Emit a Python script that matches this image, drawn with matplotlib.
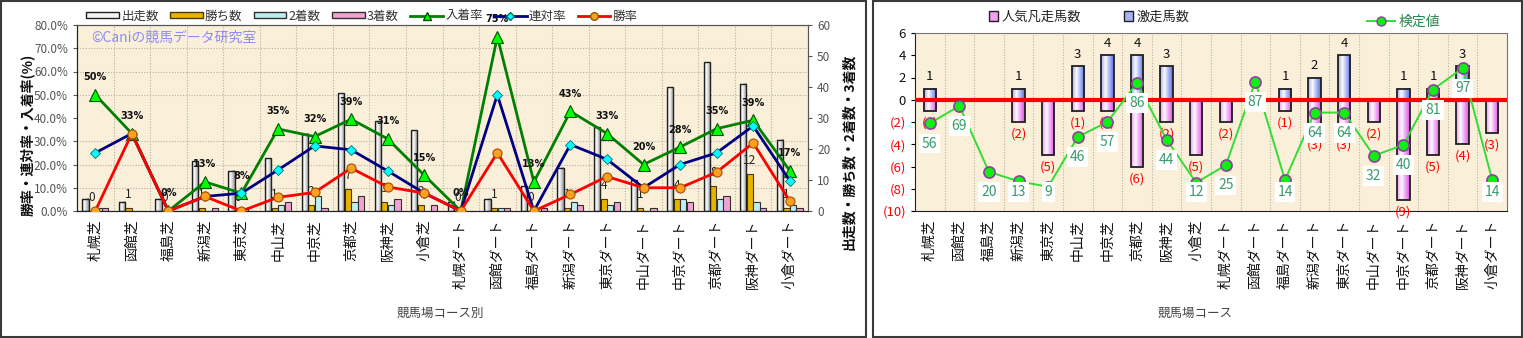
import math

import matplotlib

matplotlib.use("Agg")
import matplotlib.pyplot as plt  # noqa: E402
import numpy as np  # noqa: E402
from matplotlib.lines import Line2D  # noqa: E402
from matplotlib.patches import Patch, Rectangle  # noqa: E402

plt.rcParams["font.family"] = ["Noto Sans CJK JP", "DejaVu Sans"]

# 競馬場コース
courses = ["札幌芝", "函館芝", "福島芝", "新潟芝", "東京芝", "中山芝", "中京芝", "京都芝",
           "阪神芝", "小倉芝", "札幌ダート", "函館ダート", "福島ダート", "新潟ダート",
           "東京ダート", "中山ダート", "中京ダート", "京都ダート", "阪神ダート", "小倉ダート"]

# 左: 出走数・着順別回数
runs = [4, 3, 4, 16, 13, 17, 25, 38, 29, 26, 3, 4, 8, 14, 27, 10, 40, 48, 41, 23]
wins = [0, 1, 0, 1, 0, 1, 2, 7, 3, 2, 0, 1, 0, 1, 4, 1, 4, 8, 12, 1]
seconds = [1, 0, 0, 0, 1, 2, 5, 3, 2, 0, 0, 1, 0, 3, 2, 0, 4, 4, 3, 2]
thirds = [1, 0, 0, 1, 0, 3, 1, 5, 4, 2, 0, 1, 1, 2, 3, 1, 3, 5, 1, 1]

# 右: 激走馬数 / 人気凡走馬数 / 検定値
gekisou = [1, 0, 0, 1, 0, 3, 4, 4, 3, 0, 0, 0, 1, 2, 4, 0, 1, 1, 3, 0]
bonsou = [1, 0, 0, 2, 5, 1, 1, 6, 2, 5, 2, 0, 1, 3, 3, 2, 9, 5, 4, 3]
kentei = [56, 69, 20, 13, 9, 46, 57, 86, 44, 12, 25, 87, 14, 64, 64, 32, 40, 81, 97, 14]

W, H = 1523, 338
x = np.arange(len(courses))
runs_a = np.array(runs, float)
win_rate = np.array(wins) / runs_a * 100
rentai_rate = (np.array(wins) + np.array(seconds)) / runs_a * 100
place_rate = (np.array(wins) + np.array(seconds) + np.array(thirds)) / runs_a * 100

BG = "#FAF0DA"
GRID = dict(color="#B8B0A0", linestyle=(0, (1, 1.5)), linewidth=0.8)


def gradient_bars(ax, xs, heights, width, edge, center, zorder=2, lw=1.0):
    """Bars with a horizontal cylinder-like colour gradient."""
    bars = ax.bar(xs, heights, width, facecolor="none", edgecolor="#202020",
                  linewidth=lw, zorder=zorder + 0.1)
    t = np.linspace(0, 1, 64)
    k = np.clip(np.abs(t - 0.35) / 0.65, 0, 1) ** 0.9
    e, c = np.array(matplotlib.colors.to_rgb(edge)), np.array(matplotlib.colors.to_rgb(center))
    img = (c + (e - c) * k[:, None])[None, :, :]
    for b in bars:
        if b.get_height() == 0:
            b.set_visible(False)
            continue
        x0, y0, w, h = b.get_x(), b.get_y(), b.get_width(), b.get_height()
        ax.imshow(img, extent=(x0, x0 + w, y0, y0 + h), aspect="auto",
                  interpolation="bilinear", zorder=zorder)
    return bars


def px(v, total):
    return v / total


fig = plt.figure(figsize=(W / 100, H / 100), dpi=100)
fig.patch.set_facecolor("white")

# panel frames
for x0, x1 in [(1, 866), (873, 1522)]:
    fig.patches.append(Rectangle((px(x0, W), px(1, H)), px(x1 - x0, W), px(H - 2, H),
                                 transform=fig.transFigure, fill=False,
                                 edgecolor="#3A3A3A", linewidth=1.5))

# ---------------- left chart ----------------
ax = fig.add_axes([px(77, W), 1 - px(211, H), px(731, W), px(186, H)])
ax.set_facecolor(BG)
ax2 = ax.twinx()

bw = 0.17
gradient_bars(ax, x - 0.27, runs, bw, "#9A9A9A", "#FFFFFF")
ax.bar(x - 0.09, wins, bw, color="#E8B400", edgecolor="#4A3A00", linewidth=0.8, zorder=2)
ax.bar(x + 0.09, seconds, bw, color="#BDEEF2", edgecolor="#303030", linewidth=0.8, zorder=2)
ax.bar(x + 0.27, thirds, bw, color="#F2A2D2", edgecolor="#303030", linewidth=0.8, zorder=2)
for xi, w in zip(x, wins):
    ax.annotate(str(w), (xi - 0.09, w), xytext=(0, 5), textcoords="offset points",
                ha="center", va="bottom", fontsize=8.5, color="#222222", zorder=5)

ax.set_xlim(-0.5, len(courses) - 0.5)
ax.set_ylim(0, 60)
ax.yaxis.tick_right()
ax.set_yticks(np.arange(0, 61, 10))
ax.set_yticks(np.arange(0, 61, 7.5), minor=True)
ax.set_xticks(x)
ax.set_xticks(x[:-1] + 0.5, minor=True)
ax.set_xticklabels(courses, rotation=90, fontsize=10, color="#111111")
ax.tick_params(axis="x", which="both", length=0, pad=6)
ax.tick_params(axis="y", which="major", labelsize=8.5, colors="#555555", length=3)
ax.tick_params(axis="y", which="minor", length=0)
ax.grid(which="minor", **GRID)
ax.set_axisbelow(True)

ax2.plot(x, place_rate, color="#008000", linewidth=2, marker="^", markersize=8,
         markerfacecolor="#00FF00", markeredgecolor="#005000", markeredgewidth=0.8, zorder=3)
ax2.plot(x, rentai_rate, color="#000080", linewidth=2, marker="D", markersize=5.5,
         markerfacecolor="#00FFFF", markeredgecolor="#007070", markeredgewidth=0.6, zorder=4)
ax2.plot(x, win_rate, color="#FF0000", linewidth=2, marker="o", markersize=6.5,
         markerfacecolor="#FFA020", markeredgecolor="#A05000", markeredgewidth=0.8, zorder=5)
for xi, r in zip(x, place_rate):
    ax2.annotate(f"{math.floor(r + 0.5)}%", (xi, r), xytext=(0, 9), textcoords="offset points",
                 ha="center", va="bottom", fontsize=7, fontweight="bold",
                 color="#111111", family="DejaVu Sans", zorder=6)
ax2.set_ylim(0, 80)
ax2.yaxis.tick_left()
ax2.set_yticks(np.arange(0, 81, 10))
ax2.set_yticklabels([f"{v:.1f}%" for v in np.arange(0, 81, 10)])
ax2.tick_params(axis="y", labelsize=8.5, colors="#555555", length=3)
for a in (ax, ax2):
    for s in a.spines.values():
        s.set_color("#555555")
    a.spines["left"].set_color("#222222")
    a.spines["bottom"].set_color("#222222")

ax2.text(0.02, 0.93, "©Caniの競馬データ研究室", transform=ax2.transAxes, fontsize=10,
         color="#8C8CF2", va="center", ha="left", zorder=1)

fig.text(px(27, W), 1 - px(135, H), "勝率・連対率・入着率(%)", rotation=90, ha="center",
         va="center", fontsize=10, fontweight="bold", color="#111111")
fig.text(px(849, W), 1 - px(152, H), "出走数・勝ち数・2着数・3着数", rotation=90, ha="center",
         va="center", fontsize=10, fontweight="bold", color="#111111")
fig.text(px(440, W), 1 - px(313, H), "競馬場コース別", ha="center", va="center",
         fontsize=9, color="#444444")

left_handles = [
    Patch(facecolor="#F4F4F4", edgecolor="#202020", label="出走数"),
    Patch(facecolor="#E8B400", edgecolor="#4A3A00", label="勝ち数"),
    Patch(facecolor="#BDEEF2", edgecolor="#303030", label="2着数"),
    Patch(facecolor="#F2A2D2", edgecolor="#303030", label="3着数"),
    Line2D([], [], color="#008000", lw=2, marker="^", markersize=6,
           markerfacecolor="#00FF00", markeredgecolor="#005000", label="入着率"),
    Line2D([], [], color="#000080", lw=2, marker="D", markersize=4.5,
           markerfacecolor="#00FFFF", markeredgecolor="#007070", label="連対率"),
    Line2D([], [], color="#FF0000", lw=2, marker="o", markersize=5.5,
           markerfacecolor="#FFA020", markeredgecolor="#A05000", label="勝率"),
]
fig.legend(handles=left_handles, loc="center left", bbox_to_anchor=(px(80, W), 1 - px(16, H)),
           ncol=7, frameon=False, fontsize=9, handlelength=2.6, handleheight=0.45,
           columnspacing=0.9, handletextpad=0.2, borderpad=0, labelcolor="#333333")

# ---------------- right chart ----------------
bx = fig.add_axes([px(915, W), 1 - px(211, H), px(592, W), px(178, H)])
bx.set_facecolor(BG)
bw2 = 0.42
gradient_bars(bx, x, [-v for v in bonsou], bw2, "#E050E8", "#FFFFFF", lw=1.3)
gradient_bars(bx, x, gekisou, bw2, "#5A70E8", "#FFFFFF", lw=1.3)
bx.axhline(0, color="#FF0000", linewidth=3, zorder=4)
for xi, g, b in zip(x, gekisou, bonsou):
    if g:
        bx.annotate(str(g), (xi, g), xytext=(0, 4), textcoords="offset points", ha="center",
                    va="bottom", fontsize=9.5, color="#111111", zorder=6)
    if b:
        bx.annotate(f"({b})", (xi, -b), xytext=(0, -4), textcoords="offset points",
                    ha="center", va="top", fontsize=9.5, color="#FF0000", zorder=6,
                    annotation_clip=False)

bx.set_xlim(-0.5, len(courses) - 0.5)
bx.set_ylim(-10, 6)
yt = np.arange(-10, 7, 2)
bx.set_yticks(yt)
bx.set_yticklabels([str(v) if v >= 0 else f"({-v})" for v in yt])
for lab, v in zip(bx.get_yticklabels(), yt):
    lab.set_color("#FF0000" if v < 0 else "#111111")
bx.tick_params(axis="y", labelsize=9.5, length=3)
bx.set_xticks(x)
bx.set_xticks(x[:-1] + 0.5, minor=True)
bx.set_yticks(np.arange(-8, 6, 2), minor=True)
bx.set_xticklabels(courses, rotation=90, fontsize=10, color="#111111")
bx.tick_params(axis="x", which="both", length=0, pad=6)
bx.tick_params(axis="y", which="minor", length=0)
bx.grid(which="minor", **GRID)
bx.set_axisbelow(True)
for s in bx.spines.values():
    s.set_color("#777777")
bx.spines["left"].set_color("#222222")
bx.spines["bottom"].set_color("#222222")

bx2 = bx.twinx()
bx2.set_ylim(-9, 123)
bx2.set_yticks([])
for s in bx2.spines.values():
    s.set_visible(False)
bx2.plot(x, kentei, color="#33DD33", linewidth=1.4, marker="o", markersize=8,
         markerfacecolor="#11EE11", markeredgecolor="#9040A0", markeredgewidth=1.2, zorder=3)
for xi, k in zip(x, kentei):
    bx2.text(xi, max(k - 15, 5), str(k), ha="center", va="center", fontsize=10,
             color="#3A9A6C", zorder=5,
             bbox=dict(boxstyle="square,pad=0.2", facecolor="white", edgecolor="none"))

fig.text(px(1195, W), 1 - px(313, H), "競馬場コース", ha="center", va="center",
         fontsize=9, color="#444444")

fig.legend(handles=[Patch(facecolor="#F2A0F0", edgecolor="#202020", label="人気凡走馬数"),
                    Patch(facecolor="#A8B4F4", edgecolor="#202020", label="激走馬数")],
           loc="center left", bbox_to_anchor=(px(982, W), 1 - px(17, H)), ncol=2,
           frameon=False, fontsize=9.5, handlelength=0.7, handleheight=0.7,
           handletextpad=0.3, columnspacing=3.2, borderpad=0, labelcolor="#222222")
fig.legend(handles=[Line2D([], [], color="#33DD33", lw=1.4, marker="o", markersize=6.5,
                           markerfacecolor="#11EE11", markeredgecolor="#9040A0",
                           label="検定値")],
           loc="center left", bbox_to_anchor=(px(1360, W), 1 - px(22, H)), frameon=False,
           fontsize=10, handlelength=2.0, handletextpad=0.3, borderpad=0,
           labelcolor="#2A8A50")

fig.savefig("out.png", dpi=100)
